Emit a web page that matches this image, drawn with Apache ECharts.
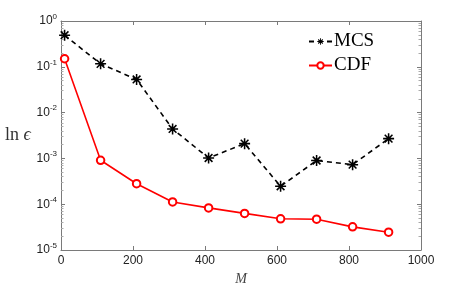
<!DOCTYPE html>
<html><head><meta charset="utf-8">
<script src="https://cdn.jsdelivr.net/npm/echarts@6/dist/echarts.min.js"></script>
<style>html,body{margin:0;padding:0;background:#fff}#c{width:465px;height:291px}</style>
</head><body><div id="c"></div>
<script>
const M = [10,110,210,310,410,510,610,710,810,910];
const mcs = [0.49,0.116,0.053,0.0044,0.00102,0.0021,0.000246,0.00090,0.00073,0.0027];
const cdf = [0.15,0.00091,0.00028,0.000112,0.000083,0.000063,0.000048,0.000047,0.000032,0.0000245];
const xTicks = [0,200,400,600,800,1000];
const yExponents = [0,-1,-2,-3,-4,-5];

const minorVals = [];
for (let e=-5;e<0;e++) for (let k=2;k<=9;k++) minorVals.push(k*Math.pow(10,e));

const star = 'path://M8.6,0L11.4,0L11.4,20L8.6,20Z M0,8.6L20,8.6L20,11.4L0,11.4Z M2,4L4,2L18,16L16,18Z M16,2L18,4L4,18L2,16Z';
const axColor = '#7a7a7a';
const lbl = {color:'#222', fontFamily:'Liberation Sans, Arial', fontSize:12};

function yMinor(pos){
  return {type:'log', logBase:10, min:1e-5, max:1, position:pos, gridIndex:0,
    axisLine:{show:false, onZero:false}, splitLine:{show:false}, axisLabel:{show:false},
    axisTick:{show:true, inside:true, length:2.5, lineStyle:{color:'#aaa'}, customValues:minorVals}};
}

const chart = echarts.init(document.getElementById('c'));
chart.setOption({
  animation:false,
  backgroundColor:'#fff',
  grid:{left:61, right:44, top:21, bottom:32},
  legend:{
    left: 303, top: 27, orient:'vertical', itemWidth:23, itemHeight:8, itemGap:5,
    textStyle:{fontFamily:'Liberation Serif, DejaVu Serif, serif', fontSize:19, color:'#000', padding:[0,0,0,-3]},
    data:['MCS','CDF']
  },
  xAxis:[
    {type:'value', min:0, max:1000, interval:200, position:'bottom',
     name:'M', nameLocation:'middle', nameGap:22,
     nameTextStyle:{fontFamily:'Liberation Serif, serif', fontStyle:'italic', fontSize:14, color:'#444'},
     axisLine:{onZero:false, lineStyle:{color:axColor}}, splitLine:{show:false},
     axisTick:{inside:true, length:4, lineStyle:{color:axColor}, customValues:xTicks},
     axisLabel:Object.assign({margin:5, customValues:xTicks, formatter:function(v){return String(v);}}, lbl)},
    {type:'value', min:0, max:1000, interval:200, position:'top',
     axisLine:{show:true, onZero:false, lineStyle:{color:axColor}}, splitLine:{show:false},
     axisTick:{show:true, inside:true, length:4, lineStyle:{color:axColor}}, axisLabel:{show:false}}
  ],
  yAxis:[
    {type:'log', logBase:10, min:1e-5, max:1, position:'left',
     name:'{n|ln }{e|ϵ}', nameLocation:'middle', nameRotate:0, nameGap:10,
     nameTextStyle:{align:'right', rich:{
       n:{fontFamily:'Liberation Serif, serif', fontSize:18, color:'#333'},
       e:{fontFamily:'Liberation Serif, serif', fontSize:18, fontStyle:'italic', color:'#333'}}},
     axisLine:{show:true, onZero:false, lineStyle:{color:axColor}}, splitLine:{show:false},
     axisTick:{inside:true, length:4, lineStyle:{color:axColor}},
     axisLabel:{margin:4,
       formatter:function(v){ const e=Math.round(Math.log10(v)); return '{b|10}{s|'+e+'}'; },
       rich:{b:{fontFamily:'Liberation Sans, Arial', fontSize:12, color:'#222'},
             s:{fontFamily:'Liberation Sans, Arial', fontSize:8, color:'#222', padding:[0,0,9,0]}}}},
    {type:'log', logBase:10, min:1e-5, max:1, position:'right',
     axisLine:{show:true, onZero:false, lineStyle:{color:axColor}}, splitLine:{show:false},
     axisTick:{show:true, inside:true, length:4, lineStyle:{color:axColor}}, axisLabel:{show:false}},
    yMinor('left'), yMinor('right')
  ],
  series:[
    {name:'MCS', type:'line', xAxisIndex:0, yAxisIndex:0,
     data:M.map((m,i)=>[m,mcs[i]]),
     symbol:star, symbolSize:11,
     itemStyle:{color:'#000'},
     lineStyle:{color:'#000', width:1.6, type:[5,4]}},
    {name:'CDF', type:'line', xAxisIndex:0, yAxisIndex:0,
     data:M.map((m,i)=>[m,cdf[i]]),
     symbol:'emptyCircle', symbolSize:7.5,
     itemStyle:{color:'#ff0000', borderWidth:1.4},
     lineStyle:{color:'#ff0000', width:1.6}}
  ]
});
</script></body></html>
